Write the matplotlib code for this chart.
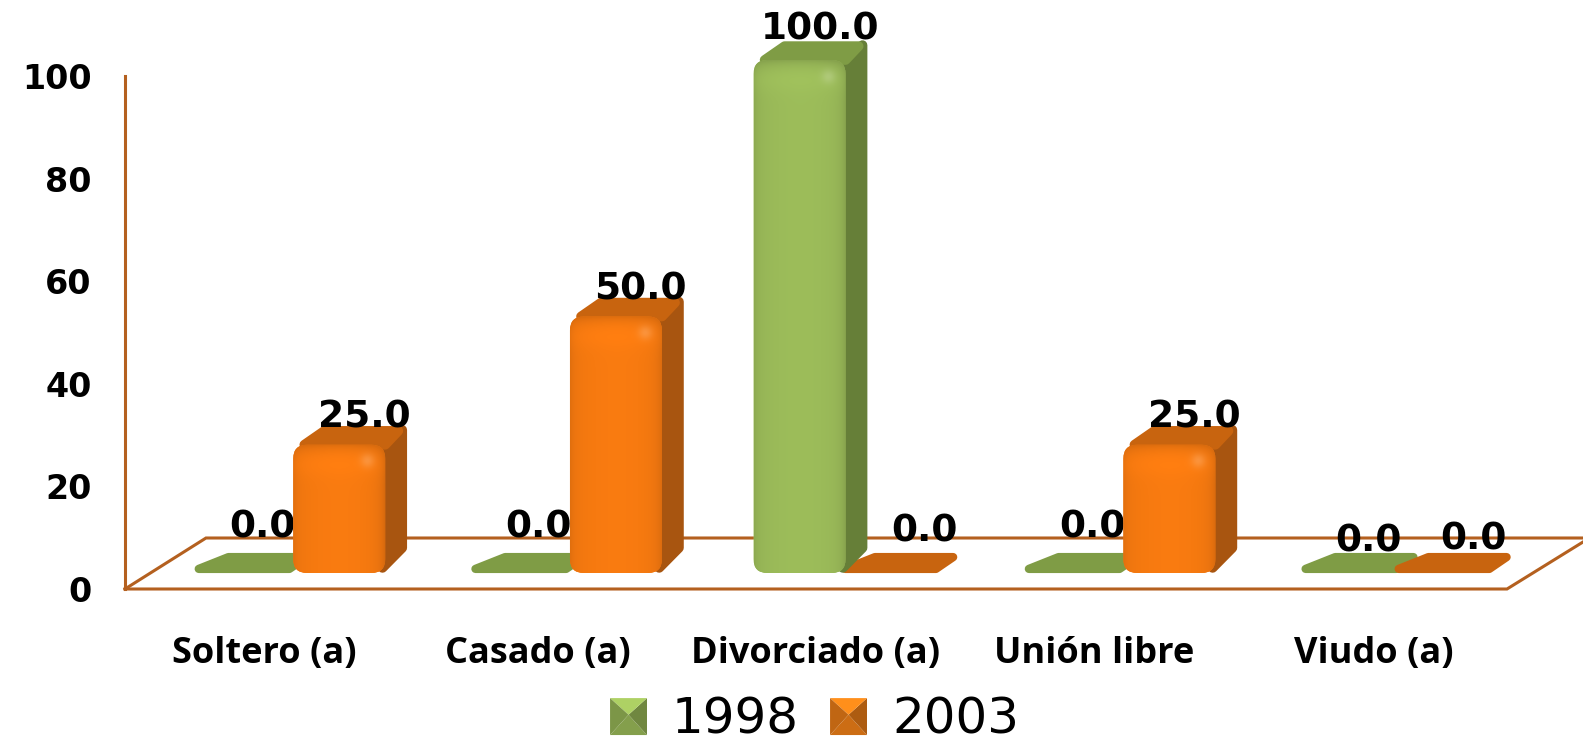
import matplotlib
matplotlib.use("Agg")
import matplotlib.pyplot as plt
import numpy as np
from matplotlib.colors import to_rgb
from matplotlib.legend_handler import HandlerPatch
from matplotlib.patches import FancyBboxPatch, Patch, Polygon

categories = ["Soltero (a)", "Casado (a)", "Divorciado (a)", "Unión libre", "Viudo (a)"]
years = ["1998", "2003"]
values_1998 = [0.0, 0.0, 100.0, 0.0, 0.0]
values_2003 = [25.0, 50.0, 0.0, 25.0, 0.0]
yticks = [0, 20, 40, 60, 80, 100]

W, H = 1583, 745
brown = "#b4601f"
# front, top, side
green = ("#9bbb59", "#7f9c45", "#667f38")
orange = ("#f77a10", "#c8640f", "#a85510")

fig = plt.figure(figsize=(W / 100, H / 100), dpi=100)
left, right, y0, y100 = 125, 1583, 589, 76
ax = fig.add_axes([left / W, 1 - y0 / H, (right - left) / W, (y0 - y100) / H])
xmin, xmax = -0.611, 4.658
px_x = (right - left) / (xmax - xmin)
px_y = (y0 - y100) / 100

base = 16 / px_y
bar_w = 92 / px_x
dx = 20 / px_x
dy = 20 / px_y


def front_image(color, h_px):
	# soft shading of the front face, with the bright spot near the top right corner
	c = np.array(to_rgb(color))
	h = int(h_px)
	w = 92
	xx, yy = np.meshgrid(np.arange(w), np.arange(h))
	img = 0.97 + 0.04 * np.sin(np.pi * xx / w)
	img = img - 0.10 * np.exp(-(w - 1 - xx) / 5.0)
	img = img - 0.06 * np.exp(-xx / 4.0)
	img = img - 0.12 * np.exp(-yy / 6.0)
	img = img + 0.03 * np.exp(-((yy - 18) / 14.0) ** 2)
	rgb = np.clip(img[..., None] * c, 0, 1)
	spot = np.exp(-((xx - w + 18) ** 2 + (yy - 16) ** 2) / 50.0)
	rgb = rgb + (1 - rgb) * 0.18 * spot[..., None]
	return np.clip(rgb, 0, 1)


def draw_bar(x, v, colors):
	x1 = x + bar_w
	if v == 0:
		# zero value: only the flat top of the bar is left on the floor
		pts = [(x - 0.005, base + 0.8), (x + dx + 0.03, base + dy - 0.8),
			(x1 + dx - 0.02, base + dy - 0.8), (x1 - 0.01, base + 0.8)]
		ax.add_patch(Polygon(pts, closed=True, fc=colors[1], ec=colors[1], lw=6,
			joinstyle="round", zorder=2, clip_on=False))
		return
	top = base + v
	side = [(x1 - 0.01, base + 1), (x1 + dx - 0.011, base + dy + 1),
		(x1 + dx - 0.011, top + dy - 1), (x1 - 0.01, top)]
	cap = [(x + 0.04, top), (x + dx + 0.04, top + dy - 1.2), (x1 + dx - 0.025, top + dy - 1.2), (x1, top)]
	ax.add_patch(Polygon(side, closed=True, fc=colors[2], ec=colors[2], lw=7,
		joinstyle="round", zorder=3, clip_on=False))
	ax.add_patch(Polygon(cap, closed=True, fc=colors[1], ec=colors[1], lw=7,
		joinstyle="round", zorder=3, clip_on=False))
	box = FancyBboxPatch((x, base), bar_w, v, boxstyle="round,pad=0,rounding_size=0.05",
		mutation_aspect=px_x / px_y, fc=colors[0], ec="none", zorder=4, clip_on=False)
	ax.add_patch(box)
	im = ax.imshow(front_image(colors[0], v * px_y), extent=(x, x1, base, top), origin="upper",
		aspect="auto", zorder=5)
	im.set_clip_box(fig.bbox)
	im.set_clip_path(box)


# floor of the 3d box
floor_back = [(xmin, 0), (xmin + 81 / px_x, 51 / px_y), (xmax, 51 / px_y)]
floor_front = [(xmin, 0), (xmin + 1382 / px_x, 0), (xmax, 47 / px_y)]
for line in (floor_back, floor_front):
	ax.plot(*zip(*line), color=brown, lw=2.2, zorder=1, clip_on=False, solid_joinstyle="miter")

for i in range(len(categories)):
	draw_bar(i - bar_w - 0.007, values_1998[i], green)
	draw_bar(i - 0.003, values_2003[i], orange)

# value labels, shifted by hand off the bars like in the original
shift_1998 = [(14, 46), (14, 46), (19, 30), (14, 46), (14, 32)]
shift_2003 = [(24, 27), (24, 27), (31, 42), (24, 27), (27, 33)]
for i in range(len(categories)):
	for x, v, sh in ((i - bar_w / 2, values_1998[i], shift_1998[i]),
			(i + bar_w / 2, values_2003[i], shift_2003[i])):
		ax.annotate("%.1f" % v, (x, base + v), xytext=sh, textcoords="offset pixels",
			ha="center", va="center", fontsize=27, fontweight="bold", family="DejaVu Sans",
			color="black", zorder=2.5 if v == 0 else 6, annotation_clip=False)


ax.set_xlim(xmin, xmax)
ax.set_ylim(0, 100)
ax.set_yticks(yticks)
ax.set_xticks([])
ax.tick_params(axis="y", length=0, pad=24, labelsize=24)
for t in ax.get_yticklabels():
	t.set_fontweight("bold")
ax.patch.set_visible(False)
for s in ("top", "right", "bottom"):
	ax.spines[s].set_visible(False)
ax.spines["left"].set_color(brown)
ax.spines["left"].set_linewidth(2.2)

for i, name in enumerate(categories):
	ax.annotate(name, (i, 0), xytext=(-30 + (0, -3, -2, 0, 3)[i], -65), textcoords="offset pixels",
		ha="center", va="center", fontsize=26, fontweight="bold", family="Open Sans",
		annotation_clip=False)


class PyramidHandler(HandlerPatch):
	# legend key: square with four shaded faces
	def create_artists(self, legend, orig, xd, yd, width, height, fontsize, trans):
		s = height * 1.0
		x0 = width - s - xd
		y0 = -yd
		c = np.array(to_rgb(orig.get_facecolor()))
		mx, my = x0 + s / 2, y0 + s * 0.55
		corners = [(x0, y0), (x0 + s, y0), (x0 + s, y0 + s), (x0, y0 + s)]
		shades = [0.85, 0.72, 1.12, 0.8]
		out = []
		for k in range(4):
			p = Polygon([corners[k], corners[(k + 1) % 4], (mx, my)], closed=True,
				fc=np.clip(c * shades[k], 0, 1), ec="none", transform=trans)
			out.append(p)
		return out


handles = [Patch(fc=green[0], label=years[0]), Patch(fc="#f08018", label=years[1])]
fig.legend(handles=handles, loc="center", bbox_to_anchor=(814 / W, 1 - 720 / H), ncol=2,
	frameon=False, fontsize=36, handlelength=0.76, handleheight=0.76, handletextpad=0.5,
	columnspacing=0.6, handler_map={Patch: PyramidHandler()})

fig.savefig("out.png", dpi=100, facecolor="white")
